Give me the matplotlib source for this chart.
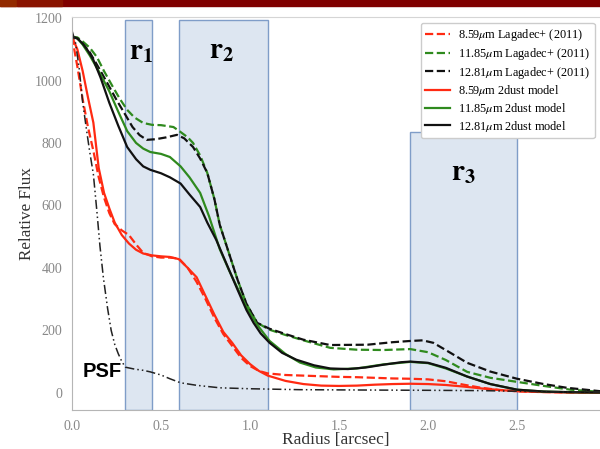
import matplotlib
matplotlib.use('Agg')
import matplotlib.pyplot as plt
from matplotlib.patches import Rectangle

plt.rcParams['font.family'] = ['Liberation Serif', 'DejaVu Serif']
plt.rcParams['mathtext.fontset'] = 'stix'

# Data
x_red_model = [0, 0.03, 0.06, 0.09, 0.12, 0.15, 0.18, 0.21, 0.24, 0.28, 0.32, 0.36, 0.40, 0.45, 0.50,
               0.55, 0.60, 0.65, 0.70, 0.75, 0.80, 0.85, 0.90, 0.95, 1.00, 1.05, 1.10, 1.20, 1.30,
               1.40, 1.50, 1.60, 1.70, 1.80, 1.90, 2.00, 2.10, 2.20, 2.30, 2.40, 2.50, 2.60, 2.70,
               2.80, 2.97]
y_red_model = [1140, 1100, 1030, 945, 865, 720, 640, 590, 545, 505, 478, 458, 446, 440, 437,
               435, 428, 400, 370, 310, 250, 195, 160, 120, 92, 70, 55, 38, 28,
               23, 22, 23, 26, 28, 29, 28, 25, 20, 14, 9, 5, 3, 2,
               1, 0]

x_red_obs = [0, 0.03, 0.06, 0.09, 0.12, 0.15, 0.18, 0.21, 0.24, 0.28, 0.32, 0.36, 0.40, 0.45, 0.50,
             0.55, 0.60, 0.65, 0.70, 0.75, 0.80, 0.85, 0.90, 0.95, 1.00, 1.05, 1.10, 1.20, 1.30,
             1.40, 1.50, 1.60, 1.70, 1.80, 1.90, 2.00, 2.10, 2.20, 2.30, 2.40, 2.50, 2.60, 2.70,
             2.80, 2.97]
y_red_obs = [1140, 1045, 940, 850, 775, 690, 625, 575, 540, 520, 505, 475, 448, 437, 433,
             433, 430, 400, 355, 300, 240, 188, 150, 112, 86, 70, 62, 57, 55,
             53, 51, 50, 48, 46, 45, 43, 37, 26, 16, 9, 5, 3, 2,
             1, 0]

x_green_obs = [0, 0.03, 0.06, 0.10, 0.14, 0.18, 0.23, 0.27, 0.31, 0.35, 0.40, 0.45, 0.50, 0.57,
               0.61, 0.65, 0.68, 0.72, 0.76, 0.80, 0.83, 0.88, 0.93, 0.98, 1.04, 1.11, 1.20, 1.30,
               1.45, 1.60, 1.75, 1.90, 2.00, 2.10, 2.22, 2.35, 2.50, 2.65, 2.80, 2.97]
y_green_obs = [1140, 1138, 1125, 1105, 1075, 1030, 979, 940, 906, 882, 864, 858, 857, 851,
               835, 818, 800, 760, 704, 620, 538, 450, 362, 285, 224, 202, 185, 168,
               144, 138, 137, 140, 130, 105, 67, 48, 35, 22, 10, 3]

x_black_obs = [0, 0.03, 0.06, 0.10, 0.157, 0.20, 0.25, 0.30, 0.34, 0.38, 0.42, 0.47, 0.53, 0.59,
               0.63, 0.68, 0.72, 0.76, 0.80, 0.83, 0.88, 0.93, 0.98, 1.04, 1.11, 1.20, 1.30, 1.45,
               1.66, 1.80, 1.90, 1.97, 2.03, 2.12, 2.22, 2.35, 2.50, 2.65, 2.78, 2.97]
y_black_obs = [1140, 1135, 1118, 1090, 1034, 990, 938, 890, 851, 825, 810, 812, 818, 826,
               815, 787, 750, 704, 620, 538, 450, 362, 285, 224, 205, 188, 170, 153,
               154, 162, 166, 168, 160, 130, 96, 68, 45, 28, 16, 5]

x_green_model = [0, 0.03, 0.06, 0.10, 0.15, 0.21, 0.26, 0.31, 0.36, 0.40, 0.44, 0.50, 0.55, 0.61,
                 0.66, 0.72, 0.77, 0.83, 0.88, 0.93, 0.98, 1.04, 1.11, 1.20, 1.28, 1.37, 1.47,
                 1.60, 1.75, 1.90, 2.00, 2.10, 2.22, 2.35, 2.50, 2.65, 2.80, 2.97]
y_green_model = [1140, 1135, 1115, 1080, 1030, 965, 900, 838, 800, 782, 771, 765, 755, 725,
                 690, 640, 565, 460, 395, 335, 275, 218, 166, 124, 97, 81, 75,
                 78, 91, 99, 95, 78, 52, 28, 10, 4, 2, 1]

x_black_model = [0, 0.03, 0.06, 0.09, 0.12, 0.16, 0.21, 0.26, 0.31, 0.36, 0.40, 0.44, 0.50, 0.55,
                 0.61, 0.66, 0.72, 0.76, 0.81, 0.87, 0.93, 0.98, 1.02, 1.06, 1.11, 1.18, 1.26,
                 1.36, 1.45, 1.55, 1.65, 1.75, 1.85, 1.90, 2.00, 2.10, 2.22, 2.35, 2.50, 2.65,
                 2.80, 2.97]
y_black_model = [1140, 1135, 1118, 1095, 1066, 1010, 928, 855, 787, 748, 725, 714, 703, 690,
                 670, 635, 595, 545, 490, 410, 330, 265, 224, 190, 160, 128, 106,
                 88, 78, 76, 81, 90, 98, 100, 96, 80, 52, 28, 10, 4,
                 2, 1]

x_psf = [0, 0.02, 0.04, 0.06, 0.084, 0.10, 0.12, 0.14, 0.157, 0.176, 0.20, 0.22, 0.24, 0.26,
         0.28, 0.30, 0.35, 0.40, 0.44, 0.50, 0.55, 0.61, 0.70, 0.83, 1.0, 1.28, 1.6, 2.0, 2.3,
         2.5, 2.7, 2.97]
y_psf = [1160, 1120, 1040, 930, 832, 770, 700, 580, 470, 370, 270, 200, 155, 125,
         100, 82, 76, 72, 67, 57, 45, 32, 24, 16, 13, 10, 9, 8, 7,
         5, 3, 2]

region_names = ['1', '2', '3']
region_left = [0.3, 0.6, 1.9]
region_right = [0.45, 1.1, 2.5]
region_top = [1195, 1195, 835]

fig = plt.figure(figsize=(6, 4.49), dpi=100)
ax = fig.add_axes([0.12, 0.0869, 0.88, 0.875])

# slide header bar
fig.patches.append(Rectangle((0, 0.987), 1, 0.013, transform=fig.transFigure,
                             color='#800000', zorder=0))
fig.patches.append(Rectangle((0, 0.987), 0.027, 0.013, transform=fig.transFigure,
                             color='#922a00', zorder=1))
fig.patches.append(Rectangle((0.028, 0.987), 0.075, 0.013, transform=fig.transFigure,
                             color='#8a1400', zorder=1))

ymin = -55
for left, right, top in zip(region_left, region_right, region_top):
    ax.add_patch(Rectangle((left, ymin), right - left, top - ymin, facecolor='#dde6f1',
                           edgecolor='#7f9dc8', lw=1, zorder=0))

ax.plot(x_red_obs, y_red_obs, '--', color='#ff2a12', lw=1.6, label='8.59$\\mu$m Lagadec+ (2011)')
ax.plot(x_green_obs, y_green_obs, '--', color='#2f8a1e', lw=1.6, label='11.85$\\mu$m Lagadec+ (2011)')
ax.plot(x_black_obs, y_black_obs, '--', color='#111111', lw=1.6, label='12.81$\\mu$m Lagadec+ (2011)')
ax.plot(x_red_model, y_red_model, '-', color='#ff2a12', lw=1.6, label='8.59$\\mu$m 2dust model')
ax.plot(x_green_model, y_green_model, '-', color='#2f8a1e', lw=1.6, label='11.85$\\mu$m 2dust model')
ax.plot(x_black_model, y_black_model, '-', color='#111111', lw=1.6, label='12.81$\\mu$m 2dust model')
ax.plot(x_psf, y_psf, color='#222222', lw=1.1, ls=(0, (6, 2, 1, 2, 1, 2)))

ax.text(0.062, 68, 'PSF', fontfamily='Liberation Sans', fontweight='bold', fontsize=14.5,
        ha='left', va='center')
label_pos = [(0.39, 1090), (0.84, 1095), (2.2, 705)]
for name, (lx, ly) in zip(region_names, label_pos):
    ax.text(lx, ly, '$\\mathbf{r}_\\mathbf{' + name + '}$', fontsize=21, ha='center', va='center')

ax.set_xlim(0, 2.966)
ax.set_ylim(ymin, 1203)
ax.set_xticks([0.0, 0.5, 1.0, 1.5, 2.0, 2.5])
ax.set_yticks([0, 200, 400, 600, 800, 1000, 1200])
ax.tick_params(length=0, labelsize=10, labelcolor='#888888', pad=7)
ax.set_xlabel('Radius [arcsec]', fontsize=12.5, color='#333333')
ax.set_ylabel('Relative Flux', fontsize=12.3, color='#333333')
ax.xaxis.set_label_coords(0.5, -0.055)
ax.yaxis.set_label_coords(-0.071, 0.5)
for side in ['left', 'bottom']:
    ax.spines[side].set_color('#b5b5b5')
ax.spines['top'].set_color('#d5d5d5')
ax.spines['right'].set_visible(False)

ax.legend(loc='upper right', bbox_to_anchor=(0.99, 0.985), borderaxespad=0, fontsize=8.8,
          framealpha=1, edgecolor='#cccccc', handlelength=2.0, labelspacing=0.22,
          borderpad=0.35, handletextpad=0.7)

fig.savefig('out.png', dpi=100)
